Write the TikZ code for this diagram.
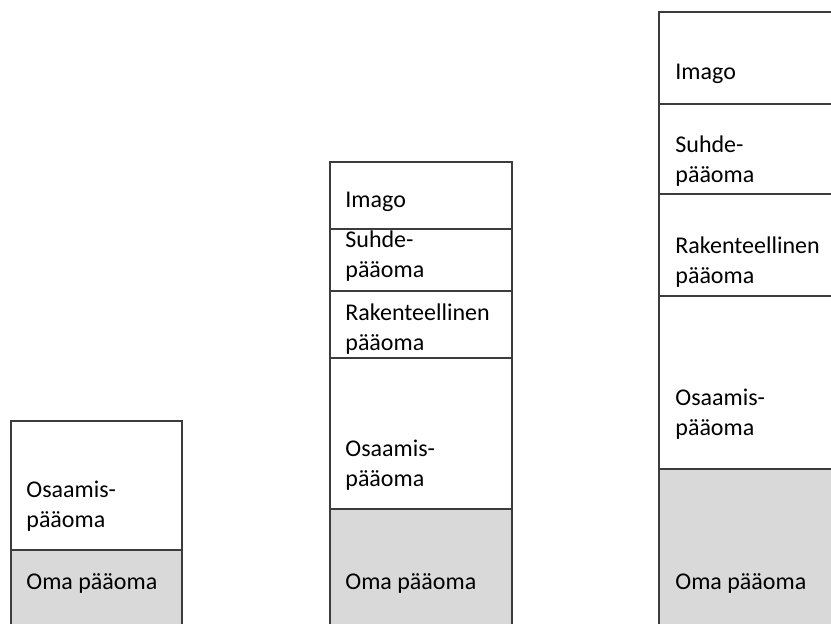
\documentclass[tikz,border=0pt]{standalone}
\usepackage{fontspec}
\setmainfont{Carlito}
\usepackage{xcolor}
\definecolor{barline}{HTML}{3C3C3C}
\definecolor{omafill}{HTML}{D9D9D9}

\begin{document}
\begin{tikzpicture}[x=0.5pt,y=-0.5pt,
        seg/.style={draw=barline,line width=0.65pt},
        oma/.style={seg,fill=omafill},
        lbl/.style={anchor=base west,align=left,inner sep=0pt,font=\fontsize{12}{15}\selectfont}]
        \useasboundingbox (0,0) rectangle (831,623);
        \clip (0,0) rectangle (831,623);
        % first bar
        \draw[oma] (11,550) rectangle (182,640);
        \draw[seg] (11,421) rectangle (182,550);
        \node[lbl] (osaamis1) at (26,527) {Osaamis-\\pääoma};
        \node[lbl] (oma1) at (26,589) {Oma pääoma};
        % second bar
        \draw[oma] (330,509) rectangle (512,640);
        \draw[seg] (330,358) rectangle (512,509);
        \draw[seg] (330,291) rectangle (512,358);
        \draw[seg] (330,229) rectangle (512,291);
        \draw[seg] (330,162) rectangle (512,229);
        \node[lbl] (imago2) at (345,207) {Imago};
        \node[lbl] (suhde2) at (345,277) {Suhde-\\pääoma};
        \node[lbl] (rakenne2) at (345,350) {Rakenteellinen\\pääoma};
        \node[lbl] (osaamis2) at (345,486) {Osaamis-\\pääoma};
        \node[lbl] (oma2) at (345,589) {Oma pääoma};
        % third bar
        \draw[oma] (659,469) rectangle (850,640);
        \draw[seg] (659,296) rectangle (850,469);
        \draw[seg] (659,194) rectangle (850,296);
        \draw[seg] (659,104) rectangle (850,194);
        \draw[seg] (659,12) rectangle (850,104);
        \node[lbl] (imago3) at (675,79) {Imago};
        \node[lbl] (suhde3) at (675,182) {Suhde-\\pääoma};
        \node[lbl] (rakenne3) at (675,283) {Rakenteellinen\\pääoma};
        \node[lbl] (osaamis3) at (675,435) {Osaamis-\\pääoma};
        \node[lbl] (oma3) at (675,589) {Oma pääoma};
\end{tikzpicture}
\end{document}
